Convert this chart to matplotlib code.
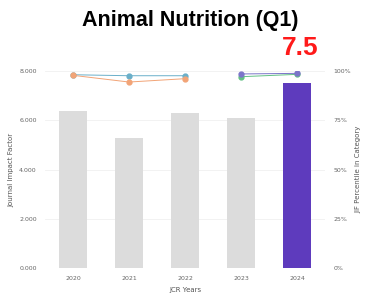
import numpy as np
import matplotlib.pyplot as plt

years = ['2020', '2021', '2022', '2023', '2024']
jif = [6.38, 5.28, 6.29, 6.09, 7.5]
pct_blue = [98.1, 97.6, 97.6, None, None]
pct_orange = [97.8, 94.4, 96.1, None, None]
pct_purple = [None, None, None, 98.5, 98.8]
pct_green = [None, None, None, 97.1, 98.3]
bar_colors = ['#dcdcdc'] * 4 + ['#5e3bbd']

fig = plt.figure(figsize=(3.71, 2.95), dpi=100)
ax = fig.add_axes([45 / 371, 27 / 295, 280 / 371, 197 / 295])
x = np.arange(len(years))
ax.bar(x, jif, width=0.5, color=bar_colors, zorder=2)
ax.set_xlim(-0.5, 4.5)
ax.set_ylim(0, 8)
ax.set_yticks([0, 2, 4, 6, 8])
ax.set_yticklabels(['0.000', '2.000', '4.000', '6.000', '8.000'])
ax.set_xticks(x)
ax.set_xticklabels(years)
ax.grid(axis='y', color='#f0f0f0', linewidth=0.6, zorder=0)
for s in ax.spines.values():
    s.set_visible(False)
ax.tick_params(length=0, labelsize=4.5, labelcolor='#666666', pad=6)
ax.set_ylabel('Journal Impact Factor', fontsize=5, color='#555555', labelpad=3)
ax.set_xlabel('JCR Years', fontsize=5, color='#555555', labelpad=4)

ax2 = ax.twinx()
ax2.set_ylim(0, 100)
ax2.set_yticks([0, 25, 50, 75, 100])
ax2.set_yticklabels(['0%', '25%', '50%', '75%', '100%'])
for s in ax2.spines.values():
    s.set_visible(False)
ax2.tick_params(length=0, labelsize=4.5, labelcolor='#666666', pad=6)
ax2.set_ylabel('JIF Percentile in Category', fontsize=5, color='#555555', labelpad=3)


def series(vals, color):
    xs = [i for i, v in enumerate(vals) if v is not None]
    ys = [v for v in vals if v is not None]
    ax2.plot(xs, ys, color=color, linewidth=0.7, marker='o', markersize=3.5, zorder=3)


series(pct_blue, '#6aafc9')
series(pct_orange, '#f2a477')
series(pct_green, '#62c184')
series(pct_purple, '#7b74c9')

fig.text(0.512, 0.93, 'Animal Nutrition (Q1)', ha='center', va='center',
         fontsize=15.5, fontweight='bold', family='Liberation Sans')
ax.annotate(f'{jif[-1]}', xy=(4, jif[-1]), xytext=(4.38, 8.95), ha='right', va='center',
            fontsize=19, fontweight='bold', color='#ff1a1a', family='Liberation Sans',
            annotation_clip=False, textcoords='data')

fig.savefig('out.png', dpi=100)
